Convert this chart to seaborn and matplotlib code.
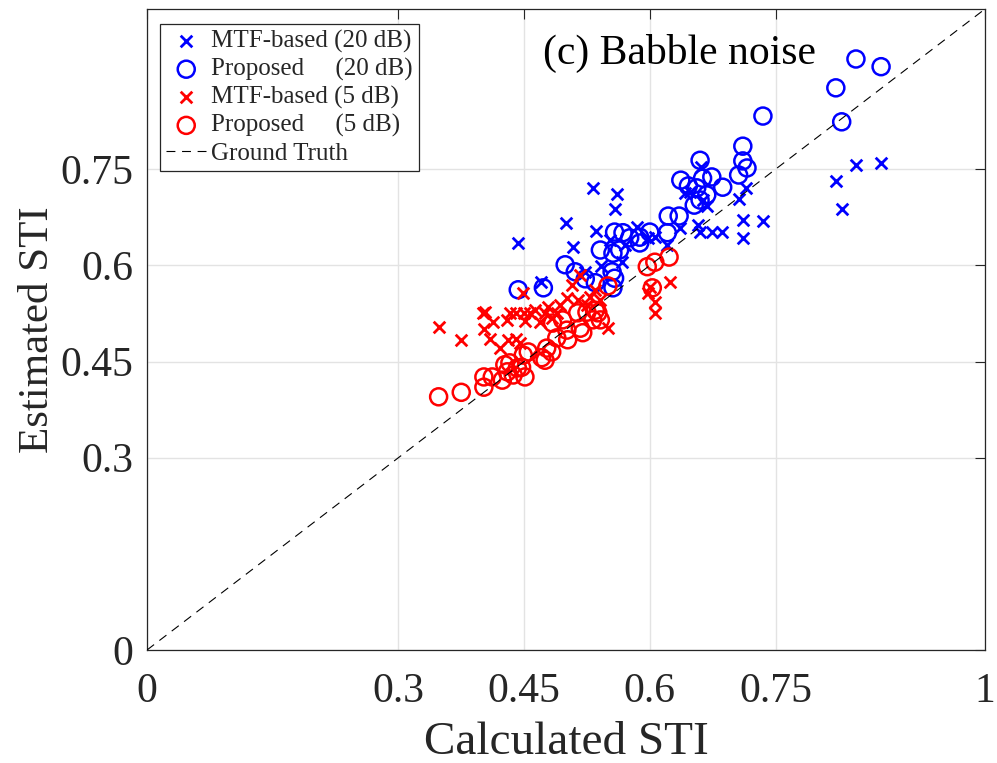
import numpy as np
import pandas as pd
import seaborn as sns
import matplotlib
matplotlib.use("Agg")
import matplotlib.pyplot as plt

# ---- data: calculated STI (x) vs. estimated STI (y) ----
mtf20_x = [0.443, 0.470, 0.500, 0.532, 0.561, 0.558, 0.536, 0.585, 0.508, 0.542,
           0.567, 0.621, 0.636, 0.642, 0.523, 0.598, 0.648, 0.658, 0.660, 0.668,
           0.674, 0.686, 0.706, 0.715, 0.711, 0.711, 0.735, 0.846, 0.876, 0.822,
           0.829, 0.663, 0.570, 0.606, 0.552, 0.661]
mtf20_y = [0.635, 0.574, 0.666, 0.721, 0.711, 0.688, 0.654, 0.660, 0.629, 0.599,
           0.605, 0.632, 0.658, 0.713, 0.590, 0.643, 0.715, 0.663, 0.652, 0.693,
           0.652, 0.652, 0.704, 0.721, 0.671, 0.643, 0.669, 0.757, 0.760, 0.732,
           0.688, 0.702, 0.632, 0.644, 0.640, 0.754]

prop20_x = [0.846, 0.876, 0.822, 0.829, 0.735, 0.711, 0.711, 0.716, 0.706, 0.660,
            0.637, 0.663, 0.674, 0.687, 0.646, 0.656, 0.668, 0.660, 0.653, 0.622,
            0.635, 0.621, 0.600, 0.588, 0.576, 0.568, 0.558, 0.588, 0.564, 0.541,
            0.556, 0.499, 0.511, 0.523, 0.535, 0.555, 0.558, 0.556, 0.473, 0.443]
prop20_y = [0.922, 0.910, 0.877, 0.824, 0.833, 0.786, 0.763, 0.752, 0.741, 0.764,
            0.733, 0.736, 0.738, 0.722, 0.724, 0.721, 0.710, 0.702, 0.694, 0.677,
            0.677, 0.651, 0.652, 0.644, 0.643, 0.651, 0.652, 0.635, 0.624, 0.624,
            0.619, 0.601, 0.590, 0.579, 0.573, 0.590, 0.580, 0.565, 0.565, 0.562]

mtf5_x = [0.348, 0.375, 0.403, 0.413, 0.402, 0.409, 0.421, 0.430, 0.433, 0.440,
          0.450, 0.451, 0.457, 0.431, 0.440, 0.445, 0.449, 0.475, 0.489, 0.479,
          0.507, 0.517, 0.529, 0.541, 0.550, 0.598, 0.606, 0.606, 0.624, 0.501,
          0.493, 0.483, 0.525, 0.463, 0.600, 0.401, 0.514, 0.535, 0.469]
mtf5_y = [0.504, 0.484, 0.527, 0.512, 0.501, 0.485, 0.471, 0.515, 0.526, 0.526,
          0.526, 0.513, 0.526, 0.484, 0.485, 0.479, 0.557, 0.526, 0.526, 0.535,
          0.569, 0.585, 0.551, 0.546, 0.502, 0.557, 0.543, 0.526, 0.574, 0.549,
          0.538, 0.518, 0.538, 0.530, 0.566, 0.526, 0.546, 0.562, 0.512]

prop5_x = [0.348, 0.375, 0.402, 0.402, 0.412, 0.424, 0.430, 0.433, 0.437, 0.442,
           0.447, 0.451, 0.455, 0.427, 0.449, 0.471, 0.475, 0.477, 0.483, 0.489,
           0.502, 0.484, 0.496, 0.501, 0.517, 0.514, 0.520, 0.525, 0.535, 0.532,
           0.541, 0.538, 0.550, 0.597, 0.606, 0.623, 0.603]
prop5_y = [0.395, 0.402, 0.410, 0.426, 0.426, 0.421, 0.434, 0.448, 0.429, 0.440,
           0.441, 0.426, 0.465, 0.445, 0.460, 0.456, 0.452, 0.471, 0.465, 0.487,
           0.484, 0.510, 0.515, 0.499, 0.502, 0.526, 0.495, 0.527, 0.530, 0.515,
           0.515, 0.526, 0.568, 0.598, 0.605, 0.613, 0.565]

truth = [0.0, 1.0]
x_ticks = [0, 0.3, 0.45, 0.6, 0.75, 1]
x_tick_labels = ["0", "0.3", "0.45", "0.6", "0.75", "1"]
y_ticks = [0, 0.3, 0.45, 0.6, 0.75]
y_tick_labels = ["0", "0.3", "0.45", "0.6", "0.75"]

sns.set_style("white")
plt.rcParams["font.family"] = ["Liberation Serif", "DejaVu Serif"]

fig = plt.figure(figsize=(9.97, 7.63), dpi=100)
ax = fig.add_axes([147 / 997, 113 / 763, 838 / 997, 641 / 763])

blue = (0, 0, 1)
red = (1, 0, 0)

sns.scatterplot(x=mtf20_x, y=mtf20_y, marker="x", color=blue, s=70,
                linewidth=2.0, label="MTF-based (20 dB)", ax=ax, zorder=3)
sns.scatterplot(x=prop20_x, y=prop20_y, marker="o", facecolor="none",
                edgecolor=blue, s=150, linewidth=1.8,
                label="Proposed     (20 dB)", ax=ax, zorder=3)
sns.scatterplot(x=mtf5_x, y=mtf5_y, marker="x", color=red, s=70,
                linewidth=2.0, label="MTF-based (5 dB)", ax=ax, zorder=3)
sns.scatterplot(x=prop5_x, y=prop5_y, marker="o", facecolor="none",
                edgecolor=red, s=150, linewidth=1.8,
                label="Proposed     (5 dB)", ax=ax, zorder=3)
sns.lineplot(x=truth, y=truth, color="black", linewidth=0.8,
             label="Ground Truth", ax=ax, zorder=4)
ax.lines[-1].set_linestyle((0, (8, 6)))

ax.set_xlim(0, 1)
ax.set_ylim(0, 1)
ax.set_xticks(x_ticks)
ax.set_xticklabels(x_tick_labels)
ax.set_yticks(y_ticks)
ax.set_yticklabels(y_tick_labels)
ax.grid(True, color="#e3e3e3", linewidth=1.0)
ax.set_axisbelow(True)
ax.tick_params(axis="both", which="both", direction="in", length=7,
               width=0.8, color="#262626", labelsize=30, top=True, right=True,
               labelcolor="#262626")
ax.tick_params(axis="x", pad=16)
ax.tick_params(axis="y", pad=10)
for sp in ax.spines.values():
    sp.set_color("#262626")
    sp.set_linewidth(0.9)

ax.set_xlabel("Calculated STI", fontsize=34, color="#262626", labelpad=8)
ax.set_ylabel("Estimated STI", fontsize=31, color="#262626", labelpad=2)

ax.text(0.636, 0.93, "(c) Babble noise", transform=ax.transAxes,
        fontsize=30, ha="center", va="center", color="black")

leg = ax.legend(loc="upper left", bbox_to_anchor=(0.0155, 0.977),
                borderaxespad=0, fontsize=18, frameon=True, fancybox=False,
                framealpha=1, edgecolor="#262626", handlelength=1.6,
                handletextpad=0.2, labelspacing=0.2, borderpad=0.25)
leg.get_frame().set_linewidth(0.9)

fig.savefig("out.png", dpi=100)
